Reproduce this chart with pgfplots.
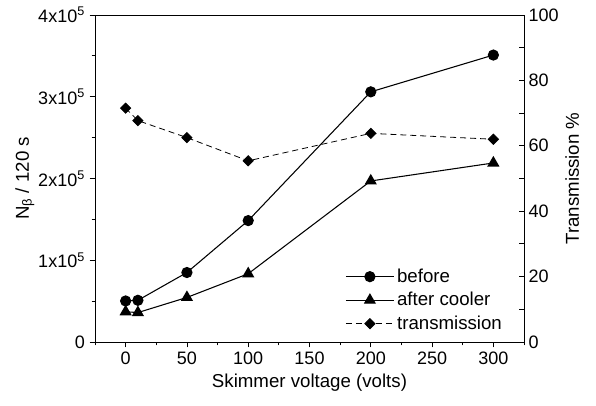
\documentclass[border=0pt]{standalone}
\usepackage{pgfplots}
\pgfplotsset{compat=1.18}
\usepackage{fontspec}
\setmainfont{Liberation Sans}
\begin{document}
\begin{tikzpicture}
\useasboundingbox (-71.25pt,-48pt) rectangle (375.75pt,256.5pt);
\pgfplotsset{
  mylegimg/.style={legend image code/.code={%
    \draw[##1, mark=none] (0pt,0pt) -- (36pt,0pt);
    \draw[##1, draw=none] plot coordinates {(18pt,0pt)};}},
}
\begin{axis}[
  at={(0,0)}, anchor=south west,
  scale only axis, width=321.75pt, height=245.25pt,
  xmin=-25, xmax=325, ymin=0, ymax=400000,
  axis y line*=left, axis x line*=bottom,
  xtick={0,50,100,150,200,250,300},
  minor xtick={-25,25,75,125,175,225,275,325},
  ytick={0,100000,200000,300000,400000},
  yticklabels={0,1x10\textsuperscript{5},2x10\textsuperscript{5},3x10\textsuperscript{5},4x10\textsuperscript{5}},
  minor ytick={50000,150000,250000,350000},
  scaled y ticks=false,
  tick align=outside,
  major tick length=4pt, minor tick length=2.5pt,
  tick style={black, line width=0.6pt},
  axis line style={line width=0.6pt},
  /pgf/number format/assume math mode=true,
  tick label style={font=\fontsize{13.5pt}{15pt}\selectfont},
  label style={font=\fontsize{14pt}{16pt}\selectfont},
  xlabel={Skimmer voltage (volts)},
  ylabel={N\textsubscript{β} / 120 s},
  ylabel style={yshift=-4pt},
]
\addplot[black, line width=0.8pt, mark=*, mark size=3.8pt] coordinates {
(0,50200) (10,51000) (50,85000) (100,148500) (200,306000) (300,351000)};
\addplot[black, line width=0.8pt, mark=triangle*, mark size=4.5pt] coordinates {
(0,37000) (10,36000) (50,54500) (100,83500) (200,197000) (300,219000)};
\end{axis}
\begin{axis}[
  at={(0,0)}, anchor=south west,
  scale only axis, width=321.75pt, height=245.25pt,
  xmin=-25, xmax=325, ymin=0, ymax=100,
  axis y line*=right, axis x line*=top,
  xtick=\empty,
  ytick={0,20,40,60,80,100},
  minor ytick={10,30,50,70,90},
  tick align=inside,
  major tick length=4pt, minor tick length=4pt,
  tick style={black, line width=0.6pt},
  axis line style={line width=0.6pt},
  /pgf/number format/assume math mode=true,
  tick label style={font=\fontsize{13.5pt}{15pt}\selectfont},
  label style={font=\fontsize{14pt}{16pt}\selectfont},
  ylabel={Transmission \%},
  ylabel style={yshift=2pt},
  legend style={draw=none, fill=none, at={(0.583,0.015)}, anchor=south west,
    font=\fontsize{14pt}{16pt}\selectfont, row sep=2pt, inner xsep=0pt},
  legend cell align=left,
]
\addlegendimage{mylegimg, black, line width=0.8pt, mark=*, mark size=3.8pt}
\addlegendentry{before}
\addlegendimage{mylegimg, black, line width=0.8pt, mark=triangle*, mark size=4.5pt}
\addlegendentry{after cooler}
\addplot[mylegimg, black, line width=0.6pt, dash pattern=on 4.5pt off 3pt, mark=square*, mark size=2.7pt, mark options={solid, rotate=45}] coordinates {
(0,71.5) (10,67.7) (50,62.5) (100,55.4) (200,63.8) (300,62)};
\addlegendentry{transmission}
\end{axis}
\end{tikzpicture}
\end{document}
